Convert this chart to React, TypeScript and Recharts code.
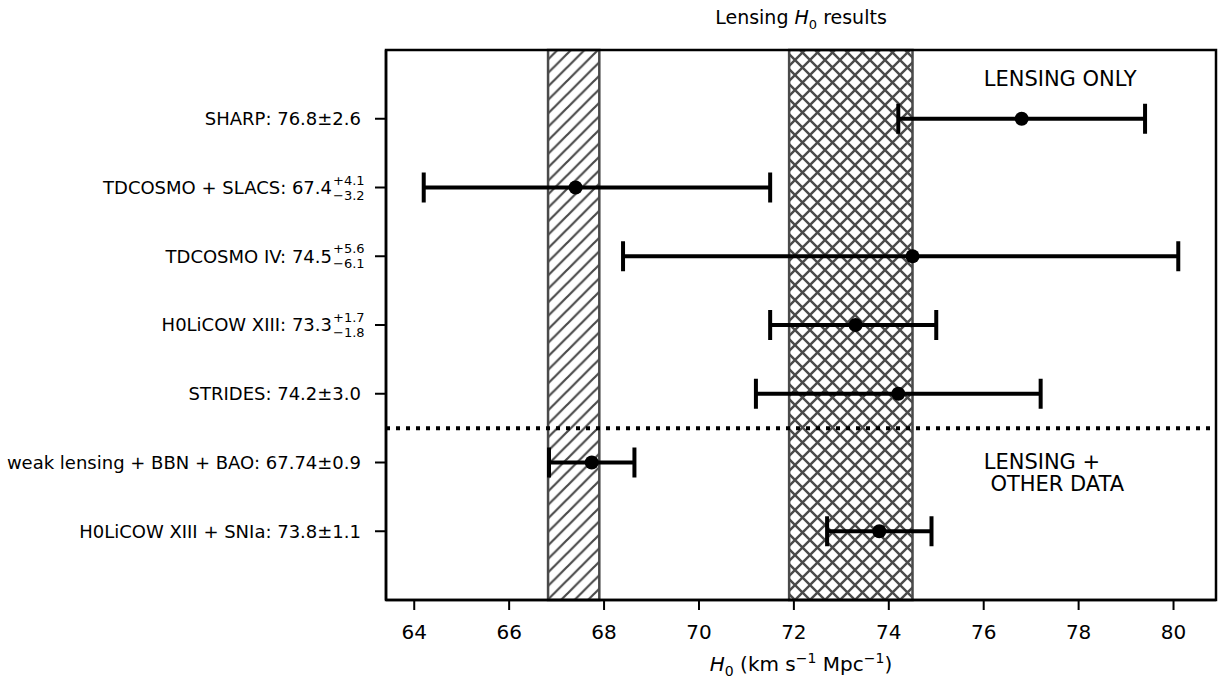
import React from "react";
import {
  ComposedChart,
  Scatter,
  ErrorBar,
  XAxis,
  YAxis,
  ReferenceArea,
  ReferenceLine,
  ReferenceDot,
} from "recharts";

// measurements, top to bottom
const names = [
  "SHARP",
  "TDCOSMO + SLACS",
  "TDCOSMO IV",
  "H0LiCOW XIII",
  "STRIDES",
  "weak lensing + BBN + BAO",
  "H0LiCOW XIII + SNIa",
];
const h0 = [76.8, 67.4, 74.5, 73.3, 74.2, 67.74, 73.8];
const errLow = [2.6, 3.2, 6.1, 1.8, 3.0, 0.9, 1.1];
const errHigh = [2.6, 4.1, 5.6, 1.7, 3.0, 0.9, 1.1];

const xTicks = [64, 66, 68, 70, 72, 74, 76, 78, 80];
const xDomain = [63.405, 80.895];
const yDomain = [-1, 7];

// shaded bands
const planckBand = [66.82, 67.9];
const shoesBand = [71.9, 74.5];
const dividerY = 4.5;

const FONT = "'DejaVu Sans', sans-serif";
const INK = "#000";
const HATCH = "#4a4a4a";

const rows = names.map((name, i) => ({
  name,
  x: h0[i],
  y: i,
  err: [errLow[i], errHigh[i]],
}));

function YTick({ x, y, payload }: any) {
  const i = payload.value as number;
  if (i < 0 || i >= names.length) return null;
  const lo = errLow[i];
  const hi = errHigh[i];
  if (lo === hi) {
    return (
      <text x={x} y={y} dy="0.36em" textAnchor="end" fontSize={18} fill={INK} fontFamily={FONT}>
        {`${names[i]}: ${h0[i]}±${lo.toFixed(1)}`}
      </text>
    );
  }
  const w = 29;
  return (
    <g fontFamily={FONT} fill={INK}>
      <text x={x - w} y={y} dy="0.36em" textAnchor="end" fontSize={18}>
        {`${names[i]}: ${h0[i]}`}
      </text>
      <text x={x - w + 1} y={y - 3} fontSize={13}>{`+${hi.toFixed(1)}`}</text>
      <text x={x - w + 1} y={y + 12} fontSize={13}>{`−${lo.toFixed(1)}`}</text>
    </g>
  );
}

function Dot(p: any) {
  return <circle cx={p.cx} cy={p.cy} r={7} fill={INK} />;
}

function Note({ lines }: { lines: string[] }) {
  return (p: any) => (
    <text x={p.cx} y={p.cy} fontSize={21} fill={INK} fontFamily={FONT}>
      {lines.map((l, k) => (
        <tspan key={k} x={p.cx} dy={k === 0 ? 0 : 22} style={{ whiteSpace: "pre" }}>
          {l}
        </tspan>
      ))}
    </text>
  );
}

export default function App() {
  return (
    <div style={{ position: "absolute", left: 0, top: 0, width: 1221, height: 683, background: "#fff", fontFamily: FONT }}>
      <div style={{ position: "absolute", left: 386, width: 830, top: 6, textAlign: "center", fontSize: 19 }}>
        Lensing <i>H</i>
        <sub style={{ fontSize: 13 }}>0</sub> results
      </div>
      <div style={{ position: "absolute", left: 386, width: 830, top: 650, textAlign: "center", fontSize: 20 }}>
        <i>H</i>
        <sub style={{ fontSize: 14 }}>0</sub> (km s<sup style={{ fontSize: 14 }}>−1</sup> Mpc<sup style={{ fontSize: 14 }}>−1</sup>)
      </div>
      <ComposedChart
        width={1221}
        height={683}
        data={rows}
        margin={{ top: 50, right: 5, bottom: 0, left: 0 }}
        style={{ position: "absolute", left: 0, top: 0 }}
      >
        <defs>
          <pattern id="hatch" patternUnits="userSpaceOnUse" width={13.5} height={13.5}>
            <rect width={13.5} height={13.5} fill="#fff" />
            <path d="M-3,3 l6,-6 M0,13.5 l13.5,-13.5 M10.5,16.5 l6,-6" stroke={HATCH} strokeWidth={2.2} />
          </pattern>
          <pattern id="cross" patternUnits="userSpaceOnUse" width={15} height={15}>
            <rect width={15} height={15} fill="#fff" />
            <path
              d="M-3,3 l6,-6 M0,15 l15,-15 M12,18 l6,-6 M-3,12 l6,6 M0,0 l15,15 M12,-3 l6,6"
              stroke={HATCH}
              strokeWidth={2.4}
            />
          </pattern>
        </defs>
        <XAxis
          type="number"
          dataKey="x"
          domain={xDomain}
          ticks={xTicks}
          allowDataOverflow
          height={83}
          tickSize={10}
          tickMargin={15}
          tick={{ fontSize: 20, fill: INK, fontFamily: FONT }}
          tickLine={{ stroke: INK, strokeWidth: 2 }}
          axisLine={{ stroke: INK, strokeWidth: 2.5 }}
        />
        <YAxis
          type="number"
          dataKey="y"
          domain={yDomain}
          reversed
          ticks={[0, 1, 2, 3, 4, 5, 6]}
          allowDataOverflow
          width={386}
          tickSize={11}
          tickMargin={14}
          tick={<YTick />}
          tickLine={{ stroke: INK, strokeWidth: 2 }}
          axisLine={{ stroke: INK, strokeWidth: 2.5 }}
        />
        <ReferenceArea
          x1={planckBand[0]}
          x2={planckBand[1]}
          fill="url(#hatch)"
          fillOpacity={1}
          stroke={HATCH}
          strokeWidth={2.5}
          ifOverflow="visible"
        />
        <ReferenceArea
          x1={shoesBand[0]}
          x2={shoesBand[1]}
          fill="url(#cross)"
          fillOpacity={1}
          stroke={HATCH}
          strokeWidth={2.5}
          ifOverflow="visible"
        />
        <ReferenceLine y={dividerY} stroke={INK} strokeWidth={4} strokeDasharray="4 6" />
        <Scatter data={rows} dataKey="y" shape={<Dot />} isAnimationActive={false}>
          <ErrorBar dataKey="err" direction="x" stroke={INK} strokeWidth={4} width={15} />
        </Scatter>
        <ReferenceDot x={76} y={-0.48} r={0} shape={Note({ lines: ["LENSING ONLY"] })} />
        <ReferenceDot x={76} y={5.1} r={0} shape={Note({ lines: ["LENSING +", " OTHER DATA"] })} />
        <ReferenceArea
          x1={xDomain[0]}
          x2={xDomain[1]}
          y1={yDomain[0]}
          y2={yDomain[1]}
          fill="none"
          stroke={INK}
          strokeWidth={2.5}
        />
      </ComposedChart>
    </div>
  );
}
